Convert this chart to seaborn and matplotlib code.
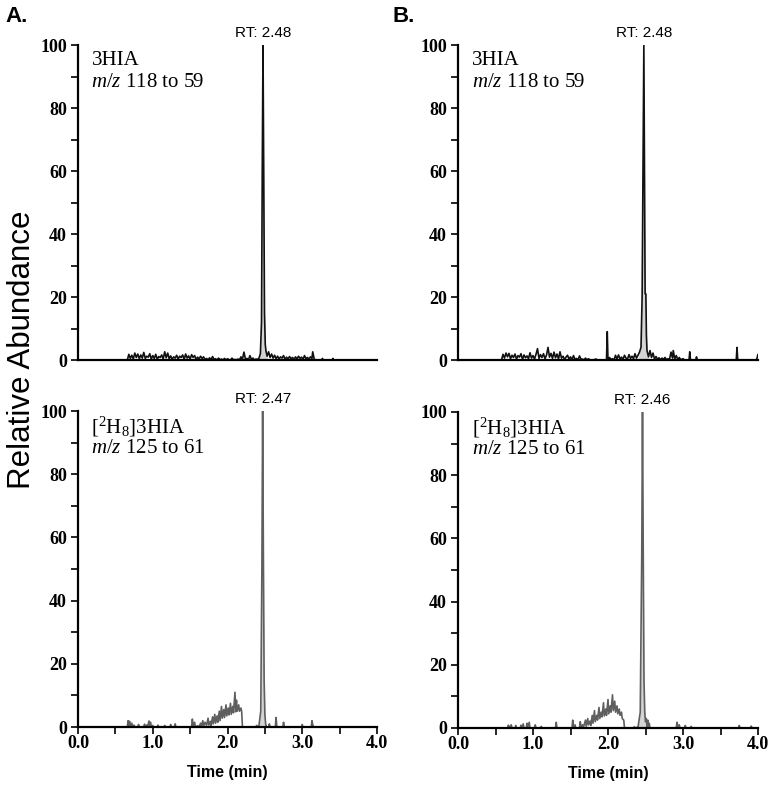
import numpy as np
import pandas as pd
import matplotlib
matplotlib.use("Agg")
import matplotlib.pyplot as plt
from matplotlib.ticker import MultipleLocator, FixedLocator, FixedFormatter
import seaborn as sns

# ---------------- data ----------------
# Panel A, top: 3HIA  m/z 118 -> 59
time_a1 = [0.00, 0.66, 0.68, 0.70, 0.72, 0.74, 0.76, 0.78, 0.80, 0.82, 0.84, 0.86, 0.88, 0.90, 0.92,
           0.94, 0.96, 0.98, 1.00, 1.02, 1.04, 1.06, 1.08, 1.10, 1.12, 1.14, 1.16, 1.18, 1.20, 1.22,
           1.24, 1.26, 1.28, 1.30, 1.32, 1.34, 1.36, 1.38, 1.40, 1.42, 1.44, 1.46, 1.48, 1.50, 1.52,
           1.54, 1.56, 1.58, 1.60, 1.62, 1.64, 1.66, 1.68, 1.70, 1.72, 1.74, 1.76, 1.78, 1.80, 1.82,
           1.84, 1.86, 1.88, 1.90, 1.92, 1.94, 1.96, 1.98, 2.00, 2.02, 2.04, 2.06, 2.08, 2.10, 2.12,
           2.14, 2.16, 2.18, 2.20, 2.22, 2.24, 2.26, 2.28, 2.30, 2.32, 2.34, 2.36, 2.38, 2.40,
           2.42, 2.44, 2.455, 2.465, 2.475, 2.485, 2.495, 2.505, 2.515,
           2.53, 2.55, 2.57, 2.59, 2.61, 2.63, 2.65, 2.67, 2.69, 2.71, 2.73, 2.75, 2.77, 2.79, 2.81,
           2.83, 2.85, 2.87, 2.89, 2.91, 2.93, 2.95, 2.97, 2.99, 3.01, 3.03, 3.05, 3.07, 3.09, 3.11,
           3.13, 3.14, 3.16, 3.18, 3.26, 3.27, 3.28, 3.40, 3.41, 3.42, 4.00]
abund_a1 = [0.0, 0.0, 1.8, 0.5, 1.5, 0.3, 2.2, 0.8, 1.9, 0.4, 1.6, 0.6, 2.4, 0.5, 1.2,
            0.9, 2.0, 0.3, 1.4, 0.5, 1.8, 0.2, 1.1, 0.8, 1.6, 0.3, 2.6, 0.7, 2.2, 0.4,
            1.3, 0.2, 1.0, 0.6, 1.5, 0.3, 1.2, 0.8, 1.6, 0.2, 1.9, 0.6, 1.3, 0.3, 1.7,
            0.8, 1.4, 0.2, 0.9, 0.3, 1.2, 0.5, 1.0, 0.1, 0.5, 0.0, 0.7, 0.1, 1.1, 0.2,
            0.4, 0.0, 0.6, 0.1, 0.3, 0.0, 0.5, 0.0, 0.4, 0.1, 0.0, 0.6, 0.0, 0.2, 0.0,
            0.3, 0.0, 1.0, 0.2, 2.5, 0.3, 0.5, 0.0, 1.4, 0.2, 0.6, 0.0, 0.3, 0.2,
            0.5, 2.0, 12.0, 60.0, 100.0, 60.0, 15.0, 5.0, 2.8,
            1.2, 2.6, 0.8, 1.9, 0.6, 1.5, 0.4, 1.2, 0.3, 1.0, 0.6, 1.4, 0.2, 0.9, 0.3,
            1.1, 0.4, 0.8, 0.2, 1.0, 0.3, 1.2, 0.5, 0.9, 0.2, 1.4, 0.4, 0.8, 0.3, 1.0,
            0.5, 2.6, 0.3, 0.0, 0.0, 0.5, 0.0, 0.0, 0.5, 0.0, 0.0]

# Panel B, top: 3HIA  m/z 118 -> 59
time_b1 = [0.00, 0.58, 0.60, 0.62, 0.64, 0.66, 0.68, 0.70, 0.72, 0.74, 0.76, 0.78, 0.80, 0.82, 0.84,
           0.86, 0.88, 0.90, 0.92, 0.94, 0.96, 0.98, 1.00, 1.02, 1.04, 1.06, 1.08, 1.10, 1.12, 1.14,
           1.16, 1.18, 1.20, 1.22, 1.24, 1.26, 1.28, 1.30, 1.32, 1.34, 1.36, 1.38, 1.40, 1.42, 1.44,
           1.46, 1.48, 1.50, 1.52, 1.54, 1.56, 1.58, 1.60, 1.62, 1.64, 1.66, 1.68, 1.70, 1.72, 1.74,
           1.76, 1.80, 1.84, 1.86, 1.98, 1.99, 2.00, 2.02, 2.04, 2.06, 2.08, 2.10, 2.12, 2.14, 2.16,
           2.18, 2.20, 2.22, 2.24, 2.26, 2.28, 2.30, 2.32, 2.34, 2.36, 2.38, 2.40, 2.42,
           2.44, 2.455, 2.47, 2.478, 2.488, 2.495, 2.505, 2.512, 2.52,
           2.54, 2.56, 2.58, 2.60, 2.62, 2.64, 2.66, 2.68, 2.70, 2.72, 2.74, 2.76, 2.78, 2.80, 2.82,
           2.84, 2.86, 2.87, 2.89, 2.91, 2.93, 2.95, 2.97, 3.00, 3.02, 3.08, 3.09, 3.10, 3.17, 3.18,
           3.19, 3.71, 3.72, 3.73, 3.98, 4.00]
abund_b1 = [0.0, 0.0, 1.8, 0.6, 2.2, 1.0, 2.1, 0.4, 1.5, 0.8, 1.9, 0.3, 1.4, 0.9, 2.0,
            0.2, 1.6, 0.7, 1.3, 0.4, 2.3, 0.6, 1.4, 0.3, 1.8, 3.6, 0.5, 1.7, 0.8, 2.0,
            0.4, 1.5, 4.0, 0.9, 2.1, 0.5, 2.5, 0.7, 1.9, 0.3, 2.6, 0.6, 1.2, 0.2, 0.9,
            1.5, 0.3, 1.0, 0.1, 1.4, 0.2, 0.5, 0.0, 1.3, 0.2, 0.3, 0.0, 0.6, 0.0, 0.4,
            0.0, 0.0, 0.3, 0.0, 0.0, 9.0, 0.0, 0.8, 0.2, 0.4, 0.0, 1.5, 0.3, 1.6, 0.4,
            0.9, 0.2, 1.5, 0.6, 0.3, 1.7, 0.5, 1.2, 0.4, 2.0, 0.6, 1.5, 2.5,
            4.0, 20.0, 75.0, 100.0, 50.0, 21.0, 21.0, 8.0, 3.0,
            1.0, 3.0, 0.8, 2.2, 0.3, 1.1, 0.2, 0.7, 0.1, 0.6, 0.2, 0.8, 0.1, 0.4, 0.2,
            2.5, 0.6, 3.0, 0.4, 1.4, 0.2, 0.8, 0.1, 0.4, 0.0, 0.0, 2.6, 0.0, 0.0, 1.0,
            0.0, 0.0, 4.0, 0.0, 0.0, 1.8]

# Panel A, bottom: [2H8]3HIA  m/z 125 -> 61
time_a2 = [0.00, 0.66, 0.67, 0.68, 0.69, 0.70, 0.72, 0.73, 0.75, 0.76, 0.80, 0.81, 0.82, 0.88, 0.89,
           0.90, 0.92, 0.93, 0.95, 0.96, 0.97, 0.98, 1.00, 1.01, 1.06, 1.07, 1.08, 1.15, 1.16, 1.17,
           1.23, 1.24, 1.25, 1.29, 1.30, 1.31, 1.52, 1.53, 1.54, 1.56, 1.57, 1.60, 1.62, 1.64, 1.65,
           1.67, 1.68, 1.70, 1.72, 1.74, 1.75, 1.77, 1.78, 1.80, 1.81, 1.83, 1.84, 1.86, 1.87, 1.89,
           1.90, 1.92, 1.93, 1.95, 1.96, 1.98, 1.99, 2.01, 2.02, 2.04, 2.05, 2.07, 2.08, 2.10, 2.11,
           2.12, 2.13, 2.15, 2.16, 2.18, 2.19, 2.20, 2.38, 2.39, 2.40,
           2.42, 2.445, 2.46, 2.47, 2.48, 2.49, 2.50, 2.51, 2.52,
           2.55, 2.56, 2.57, 2.64, 2.65, 2.66, 2.74, 2.75, 2.76, 2.99, 3.00, 3.01, 3.12, 3.13, 3.14,
           3.15, 4.00]
abund_a2 = [0.0, 0.0, 2.0, 0.4, 1.8, 0.2, 1.2, 0.1, 0.6, 0.0, 0.0, 0.8, 0.0, 0.0, 0.9,
            0.1, 0.6, 0.0, 1.9, 0.3, 1.5, 0.1, 0.5, 0.0, 0.0, 0.6, 0.0, 0.0, 0.5, 0.0,
            0.0, 0.8, 0.0, 0.0, 1.0, 0.0, 0.0, 2.5, 0.3, 1.5, 0.0, 0.4, 0.0, 1.2, 0.2,
            2.0, 0.3, 1.5, 0.5, 2.8, 0.6, 1.8, 0.4, 3.2, 1.0, 4.0, 1.2, 3.5, 1.5, 5.0,
            2.0, 6.5, 2.8, 5.5, 3.0, 7.0, 3.5, 6.0, 3.8, 7.5, 4.0, 6.5, 4.5, 11.0, 4.8,
            8.5, 5.0, 7.0, 5.0, 6.0, 4.8, 0.0, 0.0, 0.5, 0.0,
            0.3, 5.0, 50.0, 100.0, 55.0, 15.0, 4.0, 1.0, 0.0,
            0.0, 1.0, 0.0, 0.0, 3.0, 0.0, 0.0, 1.5, 0.0, 0.0, 0.8, 0.0, 0.0, 2.0, 0.8,
            0.0, 0.0]

# Panel B, bottom: [2H8]3HIA  m/z 125 -> 61
time_b2 = [0.00, 0.66, 0.67, 0.69, 0.71, 0.72, 0.76, 0.77, 0.78, 0.83, 0.84, 0.85, 0.87, 0.88, 0.91,
           0.92, 0.93, 0.95, 0.96, 1.02, 1.03, 1.04, 1.10, 1.11, 1.12, 1.30, 1.31, 1.32, 1.52, 1.53,
           1.54, 1.56, 1.57, 1.62, 1.63, 1.64, 1.66, 1.67, 1.70, 1.71, 1.73, 1.74, 1.76, 1.77, 1.79,
           1.80, 1.82, 1.83, 1.85, 1.86, 1.88, 1.89, 1.91, 1.92, 1.94, 1.95, 1.97, 1.98, 2.00, 2.01,
           2.03, 2.04, 2.06, 2.07, 2.09, 2.10, 2.12, 2.13, 2.15, 2.16, 2.18, 2.19, 2.21, 2.22, 2.34,
           2.35, 2.36, 2.40, 2.43, 2.45, 2.46, 2.47, 2.48, 2.49, 2.50, 2.51, 2.52, 2.53, 2.54, 2.55,
           2.56, 2.91, 2.92, 2.93, 2.95, 2.96, 3.02, 3.03, 3.04, 3.10, 3.11, 3.12, 3.74, 3.75, 3.76,
           3.90, 3.91, 3.92, 4.00]
abund_b2 = [0.0, 0.0, 0.9, 0.2, 1.0, 0.0, 0.0, 0.8, 0.0, 0.0, 0.9, 0.1, 1.3, 0.0, 0.0,
            1.5, 0.2, 1.8, 0.0, 0.0, 1.0, 0.0, 0.0, 0.5, 0.0, 0.0, 1.8, 0.0, 0.0, 2.5,
            0.2, 1.0, 0.0, 0.0, 2.0, 0.3, 1.0, 0.0, 2.5, 0.5, 3.0, 1.0, 2.2, 0.8, 4.0,
            1.5, 5.5, 2.0, 4.0, 2.5, 6.5, 3.0, 5.0, 3.5, 8.0, 3.8, 6.0, 4.0, 9.0, 4.5,
            7.0, 5.0, 10.5, 5.5, 8.5, 5.0, 7.0, 4.5, 6.0, 4.0, 5.0, 3.0, 2.5, 0.0, 0.0,
            0.4, 0.0, 0.3, 5.0, 55.0, 100.0, 55.0, 15.0, 5.0, 2.0, 3.0, 0.5, 2.5, 0.3, 1.5,
            0.0, 0.0, 1.8, 0.5, 1.0, 0.0, 0.0, 0.8, 0.0, 0.0, 0.5, 0.0, 0.0, 0.8, 0.0,
            0.0, 0.6, 0.0, 0.0]

panel_letters = ["A.", "B."]
compound_top = "3HIA"
transition_top = r"$m/z$ 118 to 59"
compound_bottom = r"[$^{2}$H$_{8}$]3HIA"
transition_bottom = r"$m/z$ 125 to 61"
rt_labels = ["RT: 2.48", "RT: 2.48", "RT: 2.47", "RT: 2.46"]
rt_values = [2.48, 2.48, 2.47, 2.46]
peak_windows = [(2.42, 2.53), (2.42, 2.53), (2.42, 2.52), (2.40, 2.51)]
x_ticks = [0.0, 1.0, 2.0, 3.0, 4.0]
x_tick_labels = ["0.0", "1.0", "2.0", "3.0", "4.0"]
y_ticks = [0, 20, 40, 60, 80, 100]

# ---------------- style ----------------
sns.set_style("ticks")
plt.rcParams["font.family"] = ["Liberation Serif", "DejaVu Serif"]
plt.rcParams["mathtext.fontset"] = "custom"
plt.rcParams["mathtext.rm"] = "Liberation Serif"
plt.rcParams["mathtext.it"] = "Liberation Serif:italic"
plt.rcParams["mathtext.bf"] = "Liberation Serif:bold"
for k in ["text.color", "axes.labelcolor", "xtick.color", "ytick.color", "axes.edgecolor"]:
    plt.rcParams[k] = "black"

fig = plt.figure(figsize=(7.75, 7.88), dpi=100)

W, H = 775.0, 788.0
def rect(x0, x1, ytop, ybot):
    return [x0 / W, 1 - ybot / H, (x1 - x0) / W, (ybot - ytop) / H]

ax_a1 = fig.add_axes(rect(78, 377, 45, 360))
ax_b1 = fig.add_axes(rect(458, 758, 45, 360))
ax_a2 = fig.add_axes(rect(78, 377, 411, 727))
ax_b2 = fig.add_axes(rect(458, 758, 412, 728))

traces = [
    (ax_a1, time_a1, abund_a1, "#111111", compound_top, transition_top, True),
    (ax_b1, time_b1, abund_b1, "#111111", compound_top, transition_top, True),
    (ax_a2, time_a2, abund_a2, "#5f5f5f", compound_bottom, transition_bottom, False),
    (ax_b2, time_b2, abund_b2, "#5f5f5f", compound_bottom, transition_bottom, False),
]

for i, (ax, t, v, col, comp, trans, is_top) in enumerate(traces):
    df = pd.DataFrame({"time": t, "abund": v})
    tt = np.array(t)
    vv = np.array(v)
    lo, hi = peak_windows[i]
    ax.fill_between(tt, 0, vv, where=(tt >= lo) & (tt <= hi), color="#d4d4d4",
                    lw=0, interpolate=True, zorder=1)
    sns.lineplot(data=df, x="time", y="abund", ax=ax, color=col, lw=1.2,
                 estimator=None, sort=False, zorder=2)
    ax.set_xlim(0, 4)
    ax.set_ylim(0, 100)
    ax.set_xlabel("")
    ax.set_ylabel("")
    for s in ["top", "right"]:
        ax.spines[s].set_visible(False)
    for s in ["left", "bottom"]:
        ax.spines[s].set_linewidth(1.6)
        ax.spines[s].set_color("black")
    ax.yaxis.set_major_locator(FixedLocator(y_ticks))
    ax.yaxis.set_minor_locator(MultipleLocator(10))
    ax.tick_params(axis="y", which="both", direction="out", length=5, width=1.2,
                   labelsize=13, pad=3, colors="black")
    for lab in ax.get_yticklabels():
        lab.set_fontweight("bold")
    if is_top:
        ax.tick_params(axis="x", which="both", bottom=False, labelbottom=False)
    else:
        ax.xaxis.set_major_locator(FixedLocator(x_ticks))
        ax.xaxis.set_major_formatter(FixedFormatter(x_tick_labels))
        ax.xaxis.set_minor_locator(MultipleLocator(0.5))
        ax.tick_params(axis="x", which="both", direction="out", length=5, width=1.2,
                       labelsize=13, pad=1, colors="black")
        for lab in ax.get_xticklabels():
            lab.set_fontweight("bold")
        ax.set_xlabel("Time (min)", fontsize=11.5, fontweight="bold", color="black",
                      family=["Liberation Sans", "DejaVu Sans"], labelpad=9)
    ax.text(0.045, 0.95, comp, transform=ax.transAxes, fontsize=15,
            ha="left", va="center", color="black")
    ax.text(0.045, 0.88, trans, transform=ax.transAxes, fontsize=15,
            ha="left", va="center", color="black")
    ax.text(rt_values[i], 101.5, rt_labels[i], fontsize=11, ha="center", va="bottom",
            family=["Liberation Sans", "DejaVu Sans"], clip_on=False, color="black")

fig.text(5 / W, 1 - 16 / H, panel_letters[0], fontsize=16, fontweight="bold",
         family=["Liberation Sans", "DejaVu Sans"], ha="left", va="center", color="black")
fig.text(393 / W, 1 - 16 / H, panel_letters[1], fontsize=16, fontweight="bold",
         family=["Liberation Sans", "DejaVu Sans"], ha="left", va="center", color="black")
fig.text(22 / W, 1 - 350 / H, "Relative Abundance", fontsize=22.5, rotation=90,
         family=["Liberation Sans", "DejaVu Sans"], ha="center", va="center", color="black")

fig.savefig("out.png", dpi=100)
